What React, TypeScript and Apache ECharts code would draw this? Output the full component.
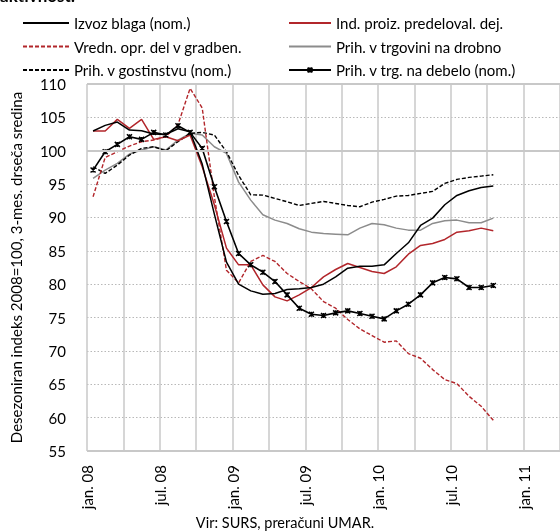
import React, { useEffect, useRef } from 'react';
import * as echarts from 'echarts';

const tickLabels = ['jan. 08', 'jul. 08', 'jan. 09', 'jul. 09', 'jan. 10', 'jul. 10', 'jan. 11'];

const seriesNames = [
  'Izvoz blaga (nom.)',
  'Ind. proiz. predeloval. dej.',
  'Vredn. opr. del v gradben.',
  'Prih. v trgovini na drobno',
  'Prih. v gostinstvu (nom.)',
  'Prih. v trg. na debelo (nom.)',
];

// monthly values from jan.08 to oct.10
const izvoz = [102.95, 103.8, 104.3, 103.1, 103.0, 102.5, 102.45, 103.3, 102.85, 98.0, 90.5, 83.3, 80.0, 79.0, 78.5, 78.6, 79.2, 79.3, 79.5, 80.0, 81.1, 82.4, 82.7, 82.7, 82.9, 84.6, 86.2, 88.8, 89.9, 91.9, 93.3, 94.0, 94.5, 94.7];
const indProiz = [102.95, 102.95, 104.7, 103.35, 104.7, 101.7, 102.1, 101.5, 102.35, 97.6, 91.9, 85.4, 82.9, 82.9, 79.9, 78.1, 77.5, 78.4, 79.5, 81.1, 82.2, 83.1, 82.5, 81.9, 81.6, 82.6, 84.5, 85.8, 86.1, 86.7, 87.8, 88.0, 88.4, 88.0];
const gradben = [93.1, 99.0, 99.85, 100.7, 101.35, 101.6, 102.1, 103.9, 109.35, 106.4, 93.1, 82.1, 80.2, 83.4, 84.3, 83.4, 81.6, 80.4, 79.3, 77.4, 76.4, 74.7, 73.3, 72.3, 71.3, 71.5, 69.6, 68.9, 67.2, 65.7, 65.1, 63.2, 61.7, 59.6];
const trgDrobno = [95.85, 97.1, 98.1, 99.5, 100.1, 100.6, 100.1, 101.6, 102.6, 102.35, 100.6, 99.6, 95.3, 92.6, 90.4, 89.6, 89.1, 88.3, 87.8, 87.6, 87.5, 87.4, 88.4, 89.1, 88.9, 88.4, 88.1, 88.1, 89.1, 89.5, 89.6, 89.2, 89.2, 89.9];
const gostinstvo = [97.6, 96.6, 97.85, 99.35, 100.35, 100.6, 100.0, 101.35, 102.6, 102.75, 102.35, 99.85, 96.3, 93.4, 93.35, 92.85, 92.35, 91.8, 92.1, 92.4, 92.1, 91.8, 91.6, 92.3, 92.7, 93.2, 93.3, 93.6, 93.9, 95.1, 95.7, 96.0, 96.2, 96.4];
const trgDebelo = [97.1, 99.85, 100.95, 102.1, 101.7, 102.75, 102.35, 103.75, 102.75, 100.35, 94.6, 89.4, 84.6, 82.9, 81.8, 80.4, 78.4, 76.4, 75.5, 75.3, 75.7, 76.0, 75.6, 75.2, 74.8, 76.0, 77.0, 78.4, 80.2, 81.0, 80.8, 79.5, 79.5, 79.8];

const FONT = 'Lato';
const RED = '#B2262B';
const GRID = '#c8c8c8';

export default function App() {
  const ref = useRef<HTMLDivElement>(null);
  useEffect(() => {
    const chart = echarts.init(ref.current!, null, { renderer: 'svg' });
    const toXY = (arr: number[]) => arr.map((v, i) => [i + 0.5, v]);
    const lineSeries = (name: string, data: number[], color: string, type: any, width: number, extra: any = {}) => ({
      name,
      type: 'line',
      data: toXY(data),
      symbol: 'none',
      showSymbol: false,
      lineStyle: { color, width, type },
      itemStyle: { color },
      ...extra,
    });
    const noMark = (name: string) => ({ name, itemStyle: { opacity: 0 } });
    const legendText = { fontSize: 15, color: '#000', fontFamily: FONT, lineHeight: 18 };
    const option: any = {
      animation: false,
      textStyle: { fontFamily: FONT },
      grid: { left: 84, top: 84, bottom: 81, right: -27, containLabel: false },
      legend: [
        {
          data: [noMark(seriesNames[0]), noMark(seriesNames[2]), noMark(seriesNames[4])],
          orient: 'vertical',
          left: 17,
          top: 9,
          itemWidth: 46,
          itemHeight: 14,
          itemGap: 5.5,
          textStyle: legendText,
        },
        {
          data: [noMark(seriesNames[1]), noMark(seriesNames[3]), seriesNames[5]],
          orient: 'vertical',
          left: 283,
          top: 9,
          itemWidth: 42,
          itemHeight: 6,
          itemGap: 5.5,
          textStyle: legendText,
        },
      ],
      xAxis: {
        type: 'value',
        min: 0,
        max: 39,
        interval: 3,
        axisLine: { show: false },
        axisTick: { show: false },
        splitLine: { show: true, lineStyle: { color: GRID, width: 1.5, type: 'solid' } },
        axisLabel: {
          rotate: 90,
          margin: 14,
          fontSize: 15,
          color: '#000',
          fontFamily: FONT,
          formatter: (v: number) => (v % 6 === 0 && tickLabels[v / 6] ? tickLabels[v / 6] : ''),
        },
      },
      yAxis: {
        type: 'value',
        min: 55,
        max: 110,
        interval: 5,
        axisLine: { show: false },
        axisTick: { show: false },
        splitLine: { show: true, lineStyle: { color: '#b8b8b8', width: 1, type: [1.5, 2] } },
        axisLabel: { fontSize: 15, color: '#000', margin: 21, fontFamily: FONT },
        name: 'Desezoniran indeks 2008=100, 3-mes. drseča sredina',
        nameLocation: 'middle',
        nameGap: 64,
        nameTextStyle: { fontSize: 15, color: '#000', fontFamily: FONT },
      },
      graphic: [
        { type: 'text', left: 0, top: -13, style: { text: 'aktivnost:', font: `bold 17px ${FONT}`, fill: '#000' } },
        {
          type: 'text',
          x: 285,
          y: 522,
          style: { text: 'Vir: SURS, preračuni UMAR.', font: `14.5px ${FONT}`, fill: '#000', textAlign: 'center', textVerticalAlign: 'middle' },
        },
      ],
      series: [
        lineSeries(seriesNames[3], trgDrobno, '#8c8c8c', 'solid', 1.5, {
          markLine: {
            silent: true,
            symbol: 'none',
            label: { show: false },
            lineStyle: { color: GRID, width: 2, type: 'solid' },
            data: [{ yAxis: 100 }, { yAxis: 110 }, { yAxis: 55 }],
          },
        }),
        lineSeries(seriesNames[4], gostinstvo, '#000', [4, 2], 1.4),
        lineSeries(seriesNames[2], gradben, RED, [4, 2], 1.4),
        lineSeries(seriesNames[1], indProiz, RED, 'solid', 1.5),
        lineSeries(seriesNames[0], izvoz, '#000', 'solid', 1.5),
        lineSeries(seriesNames[5], trgDebelo, '#000', 'solid', 1.6, {
          symbol: 'path://M0,0L10,10M10,0L0,10M5,0L5,10',
          showSymbol: true,
          symbolSize: 5,
          itemStyle: { color: '#000', borderColor: '#000', borderWidth: 1.5 },
        }),
      ],
    };
    chart.setOption(option);
    return () => chart.dispose();
  }, []);
  return <div ref={ref} style={{ position: 'fixed', left: 0, top: 0, width: 560, height: 532 }} />;
}
